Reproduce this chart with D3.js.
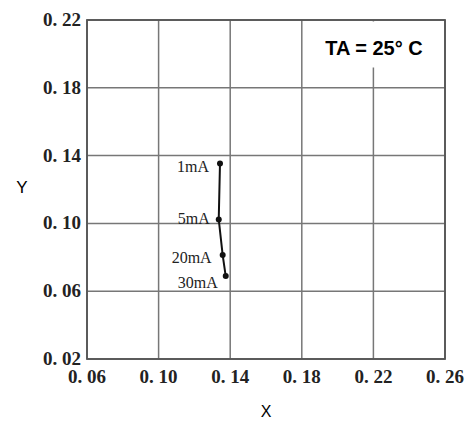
<!DOCTYPE html>
<html><head><meta charset="utf-8">
<script src="https://cdn.jsdelivr.net/npm/d3@7"></script>
<style>body{margin:0;background:#fff}svg{display:block}</style>
</head><body>
<svg id="c" width="471" height="421"></svg>
<script>
const currents = ["1mA","5mA","20mA","30mA"];
const xValues = [0.1343,0.1336,0.1358,0.1375];
const yValues = [0.1354,0.1023,0.0813,0.0689];
const xTicks = [0.06,0.10,0.14,0.18,0.22,0.26];
const yTicks = [0.02,0.06,0.10,0.14,0.18,0.22];
const xTickLabels = ["0. 06","0. 10","0. 14","0. 18","0. 22","0. 26"];
const yTickLabels = ["0. 02","0. 06","0. 10","0. 14","0. 18","0. 22"];

const svg = d3.select("#c");
const L=87,R=445,T=20,B=359;
const x = d3.scaleLinear().domain([0.06,0.26]).range([L,R]);
const y = d3.scaleLinear().domain([0.02,0.22]).range([B,T]);

const grid = svg.append("g").attr("stroke","#777").attr("stroke-width",1.5);
grid.selectAll("line.v").data(xTicks).join("line")
  .attr("x1",d=>x(d)).attr("x2",d=>x(d)).attr("y1",T).attr("y2",B);
grid.selectAll("line.h").data(yTicks).join("line")
  .attr("y1",d=>y(d)).attr("y2",d=>y(d)).attr("x1",L).attr("x2",R);
svg.append("rect").attr("x",L).attr("y",T).attr("width",R-L).attr("height",B-T)
  .attr("fill","none").attr("stroke","#555").attr("stroke-width",1.8);

// legend box covering grid
svg.append("rect").attr("x",x(0.18)+2).attr("y",T+1.5).attr("width",R-x(0.18)-4).attr("height",46).attr("fill","#fff");
svg.append("text").attr("x",374).attr("y",55).attr("text-anchor","middle")
  .attr("font-family","Liberation Sans, Arial, sans-serif").attr("font-weight","bold").attr("font-size",20)
  .text("TA = 25° C");

const tickFont = "Liberation Serif, Times New Roman, serif";
svg.append("g").selectAll("text").data(xTicks).join("text")
  .attr("x",d=>x(d)).attr("y",383).attr("text-anchor","middle")
  .attr("font-family",tickFont).attr("font-weight","bold").attr("font-size",19).attr("fill","#222")
  .text((d,i)=>xTickLabels[i]);
svg.append("g").selectAll("text").data(yTicks).join("text")
  .attr("x",81).attr("y",d=>y(d)+6).attr("text-anchor","end")
  .attr("font-family",tickFont).attr("font-weight","bold").attr("font-size",19).attr("fill","#222")
  .text((d,i)=>yTickLabels[i]);

svg.append("text").attr("x",266).attr("y",417).attr("text-anchor","middle")
  .attr("font-family","Liberation Sans, Arial, sans-serif").attr("font-size",16).text("X");
svg.append("text").attr("x",22).attr("y",193).attr("text-anchor","middle")
  .attr("font-family","Liberation Sans, Arial, sans-serif").attr("font-size",17).text("Y");

const pts = currents.map((c,i)=>({c,x:xValues[i],y:yValues[i]}));
svg.append("path").datum(pts)
  .attr("d",d3.line().x(d=>x(d.x)).y(d=>y(d.y)))
  .attr("fill","none").attr("stroke","#111").attr("stroke-width",2);
svg.append("g").selectAll("circle").data(pts).join("circle")
  .attr("cx",d=>x(d.x)).attr("cy",d=>y(d.y)).attr("r",3).attr("fill","#111");
const labelDx = [-11,-9,-11,-8];
const labelDy = [9,4,8,12];
svg.append("g").selectAll("text").data(pts).join("text")
  .attr("x",(d,i)=>x(d.x)+labelDx[i]).attr("y",(d,i)=>y(d.y)+labelDy[i])
  .attr("text-anchor","end").attr("font-family",tickFont).attr("font-size",16).attr("fill","#222")
  .text(d=>d.c);
</script>
</body></html>
